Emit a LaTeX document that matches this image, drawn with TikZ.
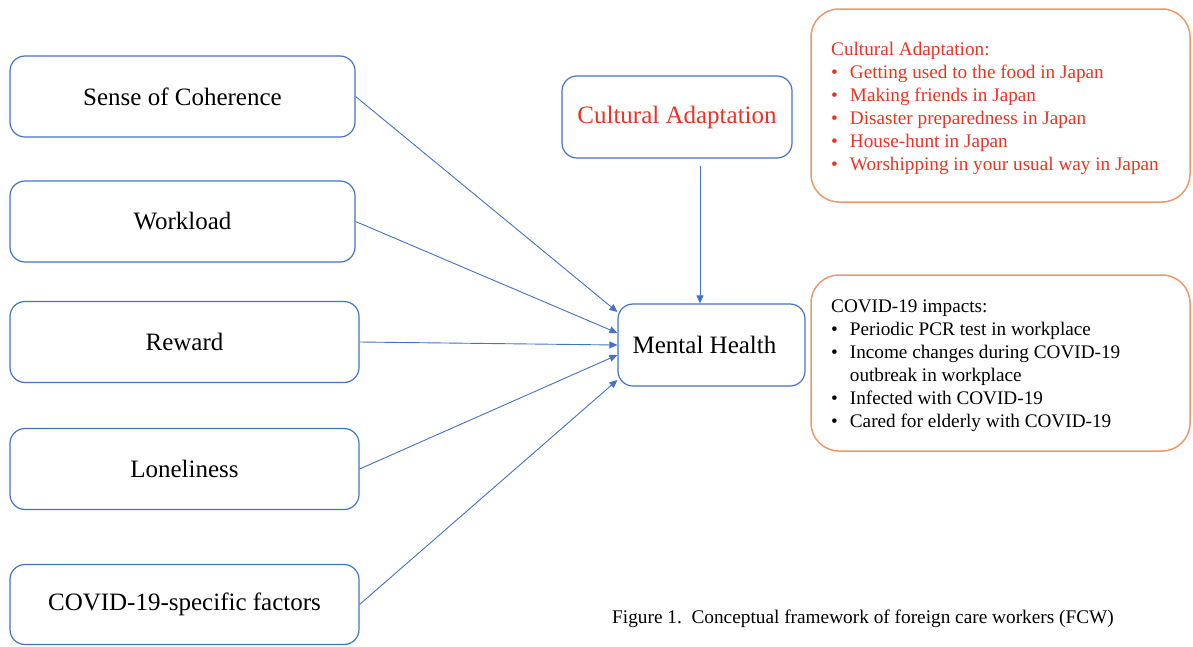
\documentclass[tikz,border=0pt]{standalone}
\usepackage{fontspec}
\setmainfont{Liberation Serif}
\usetikzlibrary{arrows.meta}

\definecolor{boxblue}{RGB}{68,114,196}
\definecolor{boxorange}{RGB}{237,153,105}
\definecolor{textred}{RGB}{235,51,36}

\begin{document}
\begin{tikzpicture}[x=1pt,y=-1pt,
  factor/.style={rectangle, draw=boxblue, line width=1.2pt, rounded corners=15pt,
    minimum height=81pt, font=\fontsize{25}{30}\selectfont},
  note/.style={rectangle, draw=boxorange, line width=1.5pt, rounded corners=28pt},
  listtext/.style={anchor=north west, inner sep=0pt, font=\fontsize{19.2}{23}\selectfont},
  link/.style={-{Triangle[length=8pt,width=7pt]}, draw=boxblue, line width=0.9pt}]
\useasboundingbox (0,0) rectangle (1193,646);

% factors on the left
\node[factor, minimum width=345pt] (soc) at (182.5,96.5) {Sense of Coherence};
\node[factor, minimum width=345pt] (work) at (182.5,221.5) {Workload};
\node[factor, minimum width=349pt] (reward) at (184.5,342) {Reward};
\node[factor, minimum width=349pt] (lonely) at (184.5,469) {Loneliness};
\node[factor, minimum width=349pt, minimum height=80pt] (covid) at (184.5,604.5) {COVID-19-specific factors};

% outcome and moderator
\node[factor, minimum width=187pt, minimum height=82pt] (mh) at (711.5,345) {Mental Health\kern14pt};
\node[factor, minimum width=230pt, minimum height=82pt, text=textred] (cult) at (677,117) {Cultural Adaptation};

% notes on the right
\node[note, minimum width=379pt, minimum height=193pt] (cultnote) at (1000.5,105.5) {};
\node[listtext, text=textred] (cultlist) at (831,39.5) {%
\begin{tabular}{@{}l@{\hspace{12pt}}l@{}}
\multicolumn{2}{@{}l@{}}{Cultural Adaptation:}\\
\textbullet & Getting used to the food in Japan\\
\textbullet & Making friends in Japan\\
\textbullet & Disaster preparedness in Japan\\
\textbullet & House-hunt in Japan\\
\textbullet & Worshipping in your usual way in Japan
\end{tabular}};

\node[note, minimum width=379pt, minimum height=176pt] (covnote) at (1000.5,363) {};
\node[listtext] (covlist) at (831,296.5) {%
\begin{tabular}{@{}l@{\hspace{12pt}}l@{}}
\multicolumn{2}{@{}l@{}}{COVID-19 impacts:}\\
\textbullet & Periodic PCR test in workplace\\
\textbullet & Income changes during COVID-19\\
 & outbreak in workplace\\
\textbullet & Infected with COVID-19\\
\textbullet & Cared for elderly with COVID-19
\end{tabular}};

% arrows
\draw[link] (soc.east) -- ([yshift=33pt]mh.west);
\draw[link] (work.east) -- ([yshift=12pt]mh.west);
\draw[link] (reward.east) -- (mh.west);
\draw[link] (lonely.east) -- ([yshift=-10pt]mh.west);
\draw[link] (covid.east) -- ([yshift=-35pt]mh.west);
\draw[link] ([xshift=23pt,yshift=-7pt]cult.south) -- ([xshift=-11.5pt]mh.north);

\node[anchor=base west, inner sep=0pt, font=\fontsize{19.3}{23}\selectfont] (caption) at (612,623)
  {Figure 1.\ \ Conceptual framework of foreign care workers (FCW)};
\end{tikzpicture}
\end{document}
